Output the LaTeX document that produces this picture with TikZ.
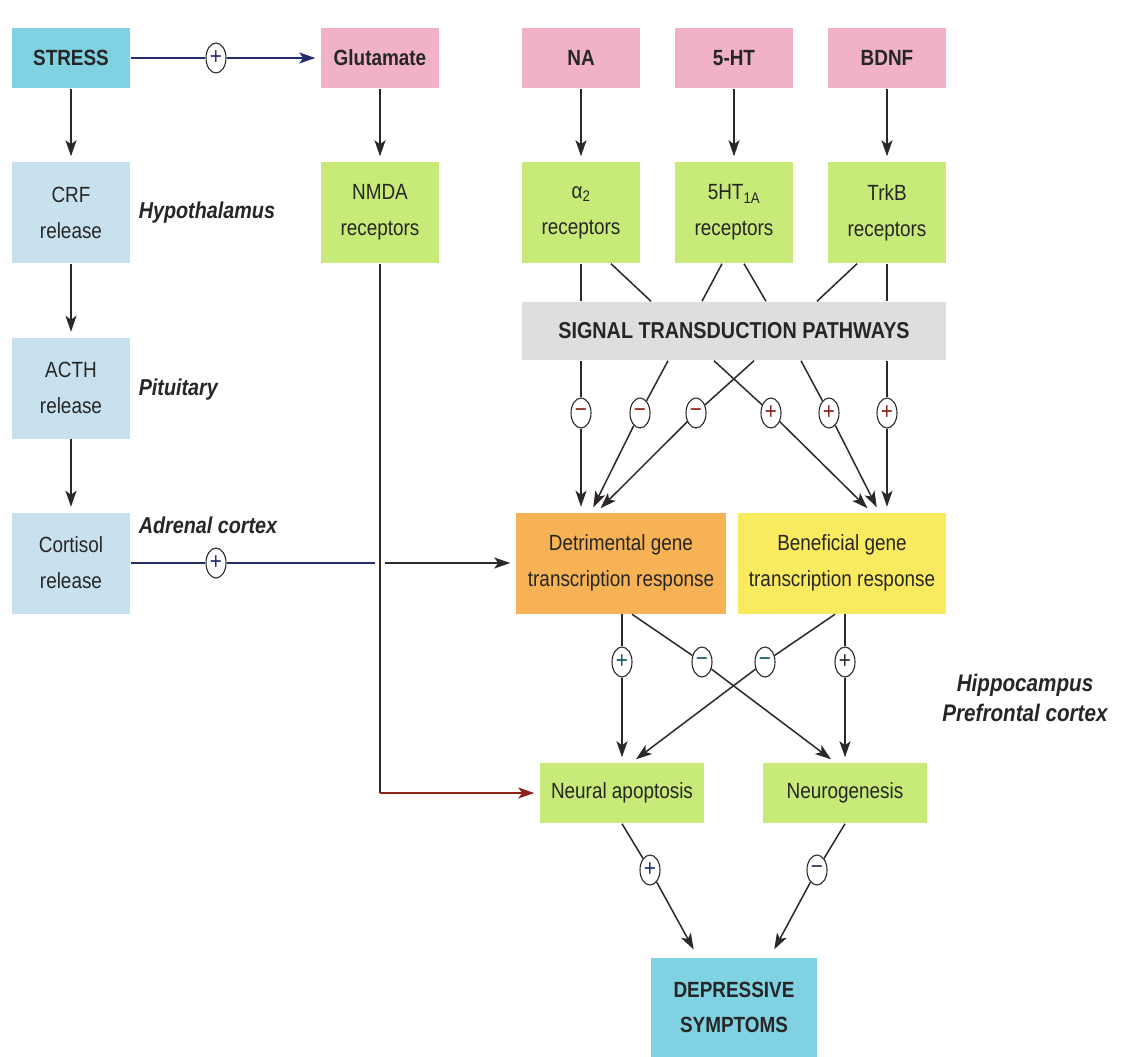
\documentclass[tikz,border=0pt]{standalone}
\usepackage{fontspec}
\setmainfont{Liberation Sans}[FakeStretch=0.86]
\usetikzlibrary{arrows.meta,shapes.geometric}

\definecolor{stresscyan}{RGB}{128,210,226}
\definecolor{transpink}{RGB}{240,178,196}
\definecolor{hormblue}{RGB}{200,225,238}
\definecolor{recgreen}{RGB}{200,234,120}
\definecolor{pathgray}{RGB}{222,222,224}
\definecolor{badorange}{RGB}{246,178,84}
\definecolor{goodyellow}{RGB}{250,234,96}
\definecolor{inkline}{RGB}{45,40,40}
\definecolor{navyline}{RGB}{35,45,110}
\definecolor{rustline}{RGB}{140,35,25}
\definecolor{tealsign}{RGB}{20,90,100}

\tikzset{
  box/.style={minimum width=118pt, minimum height=60pt, inner sep=0pt, align=center,
    text=black!85, font=\fontsize{22}{36}\selectfont},
  tallbox/.style={box, minimum height=101pt},
  boldbox/.style={box, font=\fontsize{22}{35}\selectfont\bfseries},
  region/.style={inner sep=0pt, text=black!85, font=\fontsize{23}{30}\selectfont\bfseries\itshape},
  signmark/.style={ellipse, draw, fill=white, line width=1.1pt, minimum width=20pt,
    minimum height=30pt, inner sep=0pt, font=\fontsize{24}{24}\selectfont},
  arr/.style={-{Stealth[length=16pt,width=11pt,inset=4pt]}, shorten >=5pt}
}

\begin{document}
\begin{tikzpicture}[x=1pt, y=-1pt, line width=1.5pt, color=inkline]

\fill[white] (0,0) rectangle (1133,1057);
\useasboundingbox (0,0) rectangle (1133,1057);

\node[boldbox, fill=stresscyan] (stress) at (71,58) {STRESS};
\node[boldbox, fill=transpink] (glut) at (380,58) {Glutamate};
\node[boldbox, fill=transpink] (na) at (581,58) {NA};
\node[boldbox, fill=transpink] (ht) at (734,58) {5-HT};
\node[boldbox, fill=transpink] (bdnf) at (887,58) {BDNF};

\node[tallbox, fill=hormblue] (crf) at (71,212.5) {CRF\\release};
\node[tallbox, fill=recgreen] (nmda) at (380,212.5) {NMDA\\receptors};
\node[tallbox, fill=recgreen] (alpha) at (581,212.5) {α\textsubscript{2}\\receptors};
\node[tallbox, fill=recgreen] (htr) at (734,212.5) {5HT\textsubscript{1A}\\receptors};
\node[tallbox, fill=recgreen] (trkb) at (887,212.5) {TrkB\\receptors};
\node[tallbox, fill=hormblue] (acth) at (71,388) {ACTH\\release};
\node[tallbox, fill=hormblue] (cort) at (71,563) {Cortisol\\release};

\node[boldbox, fill=pathgray, minimum width=424pt, minimum height=58pt,
  font=\fontsize{23}{30}\selectfont\bfseries] (stp) at (734,331) {SIGNAL TRANSDUCTION PATHWAYS};
\node[tallbox, fill=badorange, minimum width=210pt] (detr) at (621,563) {Detrimental gene\\transcription response};
\node[tallbox, fill=goodyellow, minimum width=208pt] (bene) at (842,563) {Beneficial gene\\transcription response};
\node[box, fill=recgreen, minimum width=164pt] (napo) at (622,793) {Neural apoptosis};
\node[box, fill=recgreen, minimum width=164pt] (ngen) at (845,793) {Neurogenesis};
\node[boldbox, fill=stresscyan, minimum width=166pt, minimum height=99pt] (dep) at (734,1007.5) {DEPRESSIVE\\SYMPTOMS};

\node[region, anchor=west] (hypo) at (138,213) {Hypothalamus};
\node[region, anchor=west] (pit) at (138,390) {Pituitary};
\node[region, anchor=west] (adr) at (138,525) {Adrenal cortex};
\node[region, align=center, font=\fontsize{24}{30}\selectfont\bfseries\itshape] (hip) at (1025,698) {Hippocampus\\Prefrontal cortex};

\node[signmark, text=navyline] (sTop) at (216,58) {+};
\node[signmark, text=navyline] (sCort) at (216,563) {+};
\node[signmark, text=rustline] (m1) at (581,413) {−};
\node[signmark, text=rustline] (m2) at (640,413) {−};
\node[signmark, text=rustline] (m3) at (696,413) {−};
\node[signmark, text=rustline] (p4) at (771,413) {+};
\node[signmark, text=rustline] (p5) at (829,413) {+};
\node[signmark, text=rustline] (p6) at (887,413) {+};
\node[signmark, text=tealsign] (pa) at (622,662) {+};
\node[signmark, text=tealsign] (mb) at (702,662) {−};
\node[signmark, text=tealsign] (mc) at (765,662) {−};
\node[signmark, text=inkline] (pd) at (845,662) {+};
\node[signmark, text=navyline] (pe) at (650,870) {+};
\node[signmark, text=navyline] (mf) at (817,870) {−};

\draw[arr] (stress) -- (crf);
\draw[arr] (crf) -- (acth);
\draw[arr] (acth) -- (cort);
\draw[navyline] (stress) -- (sTop);
\draw[arr, navyline] (sTop) -- (glut);

\draw[arr] (glut) -- (nmda);
\draw[arr] (na) -- (alpha);
\draw[arr] (ht) -- (htr);
\draw[arr] (bdnf) -- (trkb);

\draw (alpha) -- (alpha |- stp.north);
\draw ([xshift=30pt]alpha.south) -- ([xshift=-83pt]stp.north);
\draw ([xshift=-12pt]htr.south) -- ([xshift=-32pt]stp.north);
\draw ([xshift=10pt]htr.south) -- ([xshift=32pt]stp.north);
\draw ([xshift=-30pt]trkb.south) -- ([xshift=83pt]stp.north);
\draw (trkb) -- (trkb |- stp.north);

\draw (stp.south -| m1) -- (m1);
\draw[arr] (m1) -- (m1 |- detr.north);
\draw ([xshift=-66pt]stp.south) -- (m2);
\draw[arr] (m2) -- ([xshift=-30pt]detr.north);
\draw ([xshift=20pt]stp.south) -- (m3);
\draw[arr] (m3) -- ([xshift=-24pt]detr.north);
\draw ([xshift=-20pt]stp.south) -- (p4);
\draw[arr] (p4) -- ([xshift=29pt]bene.north);
\draw ([xshift=67pt]stp.south) -- (p5);
\draw[arr] (p5) -- ([xshift=37pt]bene.north);
\draw (stp.south -| p6) -- (p6);
\draw[arr] (p6) -- (p6 |- bene.north);

\draw (detr.south -| pa) -- (pa);
\draw[arr] (pa) -- (pa |- napo.north);
\draw ([xshift=11pt]detr.south) -- (mb);
\draw[arr] (mb) -- ([xshift=-10pt]ngen.north);
\draw ([xshift=-7pt]bene.south) -- (mc);
\draw[arr] (mc) -- ([xshift=10pt]napo.north);
\draw (bene.south -| pd) -- (pd);
\draw[arr] (pd) -- (pd |- ngen.north);

\draw (napo.south) -- (pe);
\draw[arr, shorten >=9pt] (pe) -- ([xshift=-36pt]dep.north);
\draw (ngen.south) -- (mf);
\draw[arr, shorten >=9pt] (mf) -- ([xshift=36pt]dep.north);

\draw[navyline] (cort) -- (sCort);
\draw[navyline] (sCort) -- ([xshift=-5pt]sCort -| nmda);
\draw[arr] ([xshift=5pt]sCort -| nmda) -- (detr);
\draw (nmda) -- (nmda |- napo);
\draw[arr, rustline] (nmda |- napo) -- (napo);

\end{tikzpicture}
\end{document}
